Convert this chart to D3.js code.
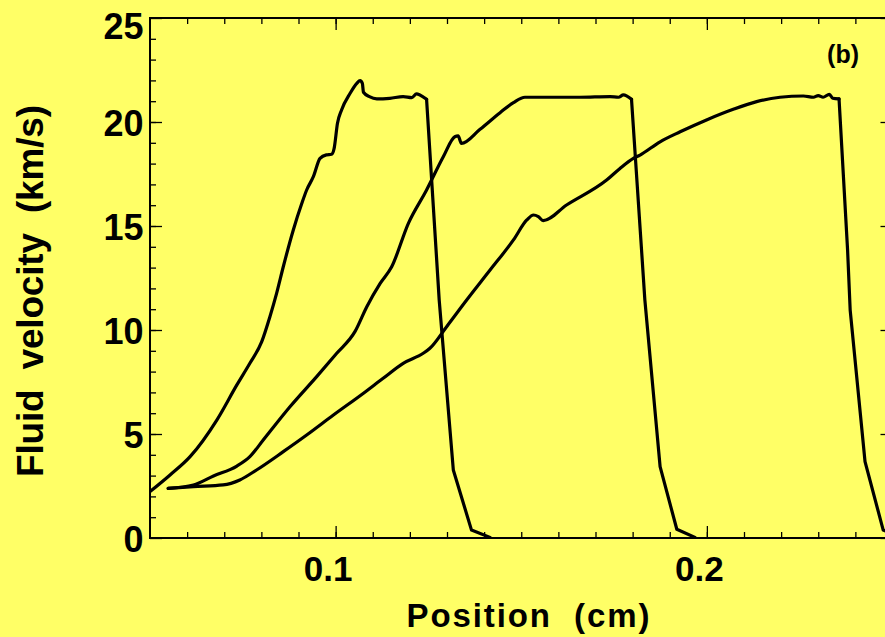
<!DOCTYPE html>
<html>
<head>
<meta charset="utf-8">
<script src="https://cdn.jsdelivr.net/npm/d3@7"></script>
<style>
  body { margin: 0; background: #ffff66; }
  svg { display: block; }
  text { font-family: "Liberation Sans", Arial, Helvetica, sans-serif; font-weight: bold; fill: #000; }
</style>
</head>
<body>
<svg id="chart"></svg>
<script>
// curve 1 (earliest time)
const pos1 = [0.0500, 0.0554, 0.0608, 0.0680, 0.0734, 0.0769, 0.0801, 0.0823, 0.0841, 0.0859,
  0.0886, 0.0909, 0.0922, 0.0940, 0.0958, 0.0975, 0.0989, 0.0996, 0.1005, 0.1016,
  0.1039, 0.1057, 0.1066, 0.1072, 0.1075, 0.1091, 0.1111, 0.1146, 0.1182, 0.1205,
  0.1218, 0.1227, 0.1245, 0.1279, 0.1317, 0.1366, 0.1416];
const vel1 = [2.23, 3.03, 3.91, 5.67, 7.36, 8.40, 9.44, 10.64, 11.76, 13.04,
  14.81, 16.09, 16.73, 17.37, 18.25, 18.42, 18.45, 18.73, 19.94, 20.58,
  21.38, 21.86, 21.99, 21.86, 21.43, 21.22, 21.11, 21.14, 21.22, 21.17,
  21.35, 21.30, 21.09, 11.44, 3.27, 0.38, 0.03];

// curve 2
const pos2 = [0.0549, 0.0617, 0.0671, 0.0734, 0.0769, 0.0805, 0.0877, 0.0949, 0.1003, 0.1052,
  0.1084, 0.1120, 0.1151, 0.1196, 0.1245, 0.1290, 0.1321, 0.1330, 0.1339, 0.1389,
  0.1443, 0.1479, 0.1510, 0.1568, 0.1658, 0.1739, 0.1762, 0.1775, 0.1797, 0.1833,
  0.1874, 0.1919, 0.1968];
const vel2 = [2.39, 2.55, 2.98, 3.46, 3.91, 4.71, 6.31, 7.76, 8.88, 9.92,
  11.12, 12.24, 13.04, 15.13, 16.73, 18.33, 19.29, 19.33, 18.97, 19.65,
  20.45, 20.93, 21.19, 21.19, 21.19, 21.22, 21.19, 21.30, 21.09, 11.44,
  3.43, 0.42, 0.03];

// curve 3 (latest time)
const pos3 = [0.0549, 0.0617, 0.0697, 0.0742, 0.0787, 0.0859, 0.0922, 0.0994, 0.1075, 0.1128,
  0.1182, 0.1236, 0.1254, 0.1299, 0.1353, 0.1416, 0.1479, 0.1515, 0.1533, 0.1546,
  0.1559, 0.1622, 0.1730, 0.1766, 0.1802, 0.1820, 0.1874, 0.1928, 0.1999, 0.2071,
  0.2134, 0.2197, 0.2260, 0.2287, 0.2300, 0.2313, 0.2330, 0.2339, 0.2356, 0.2379,
  0.2386, 0.2426, 0.2475, 0.2524];
const vel3 = [2.39, 2.47, 2.55, 2.79, 3.27, 4.15, 4.95, 5.91, 6.96, 7.68,
  8.40, 8.88, 9.12, 10.16, 11.44, 12.88, 14.33, 15.29, 15.53, 15.45,
  15.26, 16.01, 17.21, 17.77, 18.25, 18.41, 19.05, 19.53, 20.10, 20.61,
  20.98, 21.19, 21.25, 21.19, 21.27, 21.19, 21.33, 21.14, 21.11, 13.85,
  10.96, 3.67, 0.38, 0.03];

const xMajor = [0.1, 0.2];
const xMinor = d3.range(0.06, 0.2501, 0.01);
const yMajor = [0, 5, 10, 15, 20, 25];
const yMinor = d3.range(1, 25, 1);
const xTitle = "Position  (cm)";
const yTitle = "Fluid  velocity  (km/s)";
const panelLabel = "(b)";

const W = 885, H = 637;
const margin = {top: 18, left: 150},
  w = 742.5,
  h = 520;

const svg = d3.select("#chart").attr("width", W).attr("height", H);

svg.append("rect").attr("width", W).attr("height", H).attr("fill", "#ffff66");

const g = svg.append("g")
  .attr("transform", "translate(" + margin.left + "," + margin.top + ")");

const x = d3.scaleLinear().domain([0.05, 0.25]).range([0, w]);
const y = d3.scaleLinear().domain([0, 25]).range([h, 0]);

svg.append("defs").append("clipPath").attr("id", "clip")
  .append("rect").attr("width", w).attr("height", h);

// ticks, all pointing inward
function styleAxis(sel) {
  sel.select(".domain").remove();
  sel.selectAll(".tick line").attr("stroke", "#000").attr("stroke-width", 1.3);
}

g.append("g").attr("transform", "translate(0," + h + ")")
  .call(d3.axisBottom(x).tickValues(xMinor).tickSize(-6).tickFormat(""))
  .call(styleAxis);
const gX = g.append("g").attr("transform", "translate(0," + h + ")")
  .call(d3.axisBottom(x).tickValues(xMajor).tickSize(-12).tickFormat(d3.format(".1f")))
  .call(styleAxis);
gX.selectAll(".tick text")
  .attr("y", 43).attr("dy", 0).attr("dx", -8)
  .style("font-size", "35px");

g.append("g")
  .call(d3.axisTop(x).tickValues(xMinor).tickSize(-6).tickFormat(""))
  .call(styleAxis);
g.append("g")
  .call(d3.axisTop(x).tickValues(xMajor).tickSize(-12).tickFormat(""))
  .call(styleAxis);

g.append("g")
  .call(d3.axisLeft(y).tickValues(yMinor).tickSize(-6).tickFormat(""))
  .call(styleAxis);
const gY = g.append("g")
  .call(d3.axisLeft(y).tickValues(yMajor).tickSize(-12).tickPadding(6.5))
  .call(styleAxis);
gY.selectAll(".tick text")
  .attr("dy", d => d === 25 ? "0.58em" : "0.37em")
  .style("font-size", "36px");

g.append("g").attr("transform", "translate(" + w + ",0)")
  .call(d3.axisRight(y).tickValues(yMinor).tickSize(-6).tickFormat(""))
  .call(styleAxis);
g.append("g").attr("transform", "translate(" + w + ",0)")
  .call(d3.axisRight(y).tickValues(yMajor).tickSize(-12).tickFormat(""))
  .call(styleAxis);

// frame
g.append("rect")
  .attr("width", w).attr("height", h)
  .attr("fill", "none").attr("stroke", "#000").attr("stroke-width", 2);

// curves: smooth rise and plateau, straight drop after the shock front
const smooth = d3.line().x(d => x(d[0])).y(d => y(d[1])).curve(d3.curveMonotoneX);
const straight = d3.line().x(d => x(d[0])).y(d => y(d[1]));

const curves = [d3.zip(pos1, vel1), d3.zip(pos2, vel2), d3.zip(pos3, vel3)];

const body = g.append("g").attr("clip-path", "url(#clip)");

curves.forEach(function(pts) {
  // last point still on the plateau
  let k = 0;
  pts.forEach((p, i) => { if (p[1] > 20) k = i; });
  [smooth(pts.slice(0, k + 1)), straight(pts.slice(k))].forEach(function(d) {
    body.append("path")
      .attr("d", d)
      .attr("fill", "none")
      .attr("stroke", "#000")
      .attr("stroke-width", 3.2)
      .attr("stroke-linejoin", "round")
      .attr("stroke-linecap", "round");
  });
});

// labels
svg.append("text")
  .attr("x", 859).attr("y", 63)
  .attr("text-anchor", "end")
  .style("font-size", "25px")
  .text(panelLabel);

svg.append("text")
  .attr("x", 528).attr("y", 627)
  .attr("text-anchor", "middle")
  .attr("textLength", 243)
  .attr("lengthAdjust", "spacing")
  .style("font-size", "33px")
  .style("white-space", "pre")
  .text(xTitle);

svg.append("text")
  .attr("transform", "translate(43,291) rotate(-90)")
  .attr("text-anchor", "middle")
  .attr("textLength", 372)
  .attr("lengthAdjust", "spacing")
  .style("font-size", "37px")
  .style("white-space", "pre")
  .text(yTitle);
</script>
</body>
</html>
